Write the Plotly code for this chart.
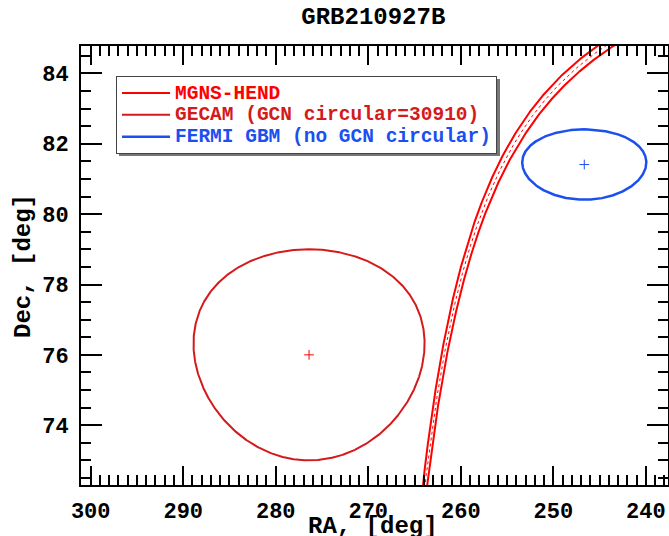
import numpy as np
import plotly.graph_objects as go

# ---------------- data ----------------
TITLE = "GRB210927B"
X_TITLE = "RA, [deg]"
Y_TITLE = "Dec, [deg]"
X_RANGE = [301.05, 237.6]
Y_RANGE = [72.3, 84.78]
X_TICKS = [300, 290, 280, 270, 260, 250, 240]
Y_TICKS = [74, 76, 78, 80, 82, 84]

# MGNS-HEND IPN annulus: centre (RA, Dec), radius and half width, deg
MGNS_NAME = "MGNS-HEND"
MGNS_CENTER_RA = 1.62
MGNS_CENTER_DEC = 0.82
MGNS_RADIUS = 91.57
MGNS_HALF_WIDTH = 0.07

# GECAM error circle (GCN circular 30910)
GECAM_NAME = "GECAM (GCN circular=30910)"
GECAM_RA = 276.4
GECAM_DEC = 76.0
GECAM_RADIUS = 3.0

# Fermi GBM error circle
GBM_NAME = "FERMI GBM (no GCN circular)"
GBM_RA = 246.65
GBM_DEC = 81.41
GBM_RADIUS = 1.0

RED = "#ff0000"
DARKRED = "#d41a1a"
BLUE = "#1c4ff0"
FONT = "Liberation Mono, Courier New, monospace"

# figure geometry (px)
W, H = 669, 536
ML, MR, MT, MB = 81, 1, 46, 51
PW, PH = W - ML - MR, H - MT - MB


def small_circle(ra0, dec0, r, n=2000, window=None):
    """Points of a circle of angular radius r around (ra0, dec0) on the sky."""
    a0, d0, rr = np.radians(ra0), np.radians(dec0), np.radians(r)
    c = np.array([np.cos(d0) * np.cos(a0), np.cos(d0) * np.sin(a0), np.sin(d0)])
    north = np.array([-np.sin(d0) * np.cos(a0), -np.sin(d0) * np.sin(a0), np.cos(d0)])
    east = np.array([-np.sin(a0), np.cos(a0), 0.0])
    t = np.linspace(0, 2 * np.pi, n)
    p = (np.cos(rr) * c[:, None]
         + np.sin(rr) * (np.cos(t) * north[:, None] + np.sin(t) * east[:, None]))
    ra = list(np.degrees(np.arctan2(p[1], p[0])) % 360.0)
    dec = list(np.degrees(np.arcsin(np.clip(p[2], -1, 1))))
    if window is not None:
        (r1, r2), (d1, d2) = window
        for i in range(len(ra)):
            if not (r1 <= ra[i] <= r2 and d1 <= dec[i] <= d2):
                ra[i] = None
                dec[i] = None
    return ra, dec


def legend_label(text, color):
    return f"<span style='color:{color};font-size:19.5px'>{text}</span>"


def px_x(px):
    return (px - ML) / PW


def px_y(py):
    return 1 - (py - MT) / PH


fig = go.Figure()

win = ((225, 315), (70, 88))
# annulus: outer boundaries (solid) and centre line (dotted)
for dr, dash, w, show in [(-MGNS_HALF_WIDTH, "solid", 2, True),
                          (0.0, "dot", 1, False),
                          (MGNS_HALF_WIDTH, "solid", 2, False)]:
    ra, dec = small_circle(MGNS_CENTER_RA, MGNS_CENTER_DEC, MGNS_RADIUS + dr,
                           n=40000, window=win)
    fig.add_trace(go.Scatter(
        x=ra, y=dec, mode="lines", line=dict(color=RED, width=w, dash=dash),
        name=legend_label(MGNS_NAME, RED),
        legendgroup="mgns", showlegend=show, connectgaps=False, hoverinfo="skip"))

ra, dec = small_circle(GECAM_RA, GECAM_DEC, GECAM_RADIUS)
fig.add_trace(go.Scatter(
    x=ra, y=dec, mode="lines", line=dict(color=DARKRED, width=2),
    name=legend_label(GECAM_NAME, DARKRED), legendgroup="gecam"))
fig.add_trace(go.Scatter(
    x=[GECAM_RA], y=[GECAM_DEC], mode="markers",
    marker=dict(symbol="cross-thin", size=7, line=dict(color=RED, width=1)),
    showlegend=False, legendgroup="gecam"))

ra, dec = small_circle(GBM_RA, GBM_DEC, GBM_RADIUS)
fig.add_trace(go.Scatter(
    x=ra, y=dec, mode="lines", line=dict(color=BLUE, width=2.5),
    name=legend_label(GBM_NAME, BLUE), legendgroup="gbm"))
fig.add_trace(go.Scatter(
    x=[GBM_RA], y=[GBM_DEC], mode="markers",
    marker=dict(symbol="cross-thin", size=7, line=dict(color=BLUE, width=1)),
    showlegend=False, legendgroup="gbm"))

axis_common = dict(
    showgrid=False, zeroline=False, showline=True, linecolor="black", linewidth=2,
    mirror="allticks", ticks="inside", tickcolor="black", tickwidth=2, automargin=False,
    tickfont=dict(family=FONT, size=22, color="black", weight="bold"),
)

# legend drop shadow (offset grey box behind the legend)
fig.add_shape(type="rect", xref="paper", yref="paper", layer="above",
              x0=px_x(119), x1=px_x(500), y0=px_y(156), y1=px_y(79),
              fillcolor="#777777", line=dict(width=0))

title_font = dict(family=FONT, size=24, color="black", weight="bold")
# axis titles, placed tight against the tick labels as in the reference
fig.add_annotation(text=X_TITLE, xref="paper", yref="paper", x=px_x(373), y=px_y(526),
                   xanchor="center", yanchor="middle", showarrow=False, font=title_font)
fig.add_annotation(text=Y_TITLE, xref="paper", yref="paper", x=px_x(23), y=px_y(266),
                   xanchor="center", yanchor="middle", showarrow=False, textangle=-90,
                   font=title_font)

fig.update_layout(
    width=W, height=H,
    margin=dict(l=ML, r=MR, t=MT, b=MB),
    paper_bgcolor="white", plot_bgcolor="white",
    font=dict(family=FONT, color="black", weight="bold"),
    title=dict(text=TITLE, x=0.558, xanchor="center", y=0.97, yanchor="middle",
               font=title_font),
    xaxis=dict(range=X_RANGE, tickvals=X_TICKS, ticklen=19, ticklabelstandoff=5,
               minor=dict(ticks="inside", dtick=1, ticklen=10, tickwidth=2, tickcolor="black"),
               **axis_common),
    yaxis=dict(range=Y_RANGE, tickvals=Y_TICKS, ticklen=21, ticklabelstandoff=6,
               minor=dict(ticks="inside", dtick=0.5, ticklen=10, tickwidth=2, tickcolor="black"),
               **axis_common),
    legend=dict(x=px_x(116), y=px_y(76), xanchor="left", yanchor="top",
                bgcolor="white", bordercolor="#444", borderwidth=1,
                itemwidth=48, font=dict(family=FONT, size=14.5, weight="bold"),
                tracegroupgap=0),
    showlegend=True,
)

fig.write_html("out.html", config={"displayModeBar": False},
               post_script="document.body.style.margin='0';document.body.style.padding='0';")
